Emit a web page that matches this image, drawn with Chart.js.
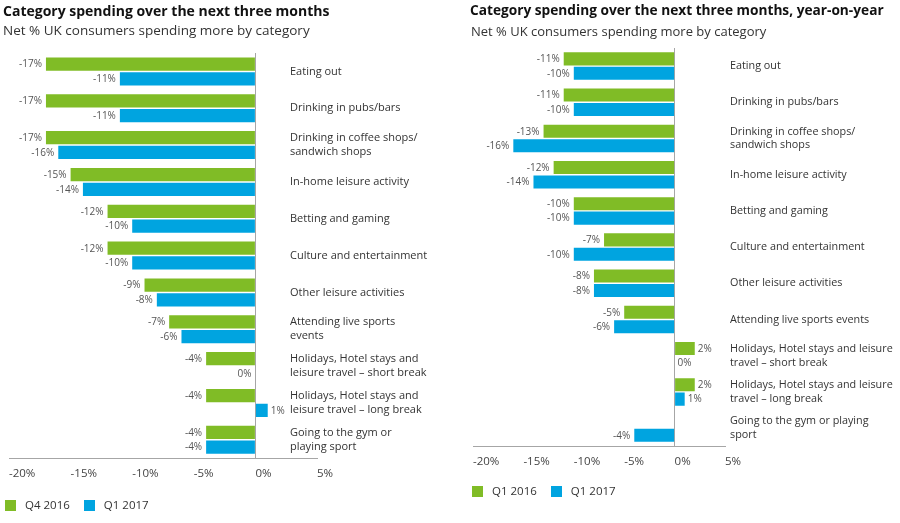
<!DOCTYPE html>
<html>
<head>
<meta charset="utf-8">
<script src="https://cdn.jsdelivr.net/npm/chart.js@4"></script>
<style>
  body { margin: 0; background: #fff; font-family: "Open Sans", sans-serif; }
  #wrap { position: relative; width: 900px; height: 523px; overflow: hidden; }
  .panel { position: absolute; top: 0; width: 450px; height: 523px; }
  .panel canvas { position: absolute; left: 0; top: 0; }
  .title { position: absolute; font-weight: 700; line-height: 18px; color: #111; white-space: nowrap; }
  .sub { position: absolute; line-height: 18px; color: #333; white-space: nowrap; }
  .legend { position: absolute; font-size: 11.5px; line-height: 14px; color: #333; white-space: nowrap; display: flex; align-items: center; }
  .legend i { display: inline-block; width: 11px; height: 11px; margin-right: 9px; }
  .legend span { margin-right: 14px; }
</style>
</head>
<body>
<div id="wrap">
  <div class="panel" style="left:0">
    <canvas id="left" width="450" height="523"></canvas>
    <div class="title" style="left:3px;top:2px;font-size:14px">Category spending over the next three months</div>
    <div class="sub" style="left:3px;top:21px;font-size:13.5px">Net % UK consumers spending more by category</div>
    <div class="legend" style="left:5px;top:498px">
      <i style="background:#80bc26"></i><span>Q4 2016</span>
      <i style="background:#00a4e0"></i><span>Q1 2017</span>
    </div>
  </div>
  <div class="panel" style="left:450px">
    <canvas id="right" width="450" height="523"></canvas>
    <div class="title" style="left:20px;top:1px;font-size:13.7px">Category spending over the next three months, year-on-year</div>
    <div class="sub" style="left:21px;top:22px;font-size:13px">Net % UK consumers spending more by category</div>
    <div class="legend" style="left:22px;top:484px">
      <i style="background:#80bc26"></i><span>Q1 2016</span>
      <i style="background:#00a4e0"></i><span>Q1 2017</span>
    </div>
  </div>
</div>
<script>
// category labels (line breaks differ between the two panels)
const leftCategories = [
  ['Eating out'],
  ['Drinking in pubs/bars'],
  ['Drinking in coffee shops/', 'sandwich shops'],
  ['In-home leisure activity'],
  ['Betting and gaming'],
  ['Culture and entertainment'],
  ['Other leisure activities'],
  ['Attending live sports', 'events'],
  ['Holidays, Hotel stays and', 'leisure travel – short break'],
  ['Holidays, Hotel stays and', 'leisure travel – long break'],
  ['Going to the gym or', 'playing sport']
];
const rightCategories = [
  ['Eating out'],
  ['Drinking in pubs/bars'],
  ['Drinking in coffee shops/', 'sandwich shops'],
  ['In-home leisure activity'],
  ['Betting and gaming'],
  ['Culture and entertainment'],
  ['Other leisure activities'],
  ['Attending live sports events'],
  ['Holidays, Hotel stays and leisure', 'travel – short break'],
  ['Holidays, Hotel stays and leisure', 'travel – long break'],
  ['Going to the gym or playing', 'sport']
];

// net % values, left panel (quarter-on-quarter)
const q4_2016 = [-17, -17, -17, -15, -12, -12, -9, -7, -4, -4, -4];
const q1_2017 = [-11, -11, -16, -14, -10, -10, -8, -6, 0, 1, -4];
// net % values, right panel (year-on-year)
const q1_2016_yoy = [-11, -11, -13, -12, -10, -7, -8, -5, 2, 2, null];
const q1_2017_yoy = [-10, -10, -16, -14, -10, -10, -8, -6, 0, 1, -4];

const xMin = -20;
const xMax = 5;
const xStep = 5;

const GREEN = '#80bc26';
const BLUE = '#00a4e0';
const AXIS = '#a6a6a6';

// category names drawn to the right of the bars, centred on each band
const sideLabels = {
  id: 'sideLabels',
  afterDatasetsDraw(chart, args, opts) {
    const { ctx } = chart;
    const y = chart.scales.y;
    ctx.save();
    ctx.font = opts.size + 'px "Open Sans"';
    ctx.fillStyle = '#333';
    ctx.textAlign = 'left';
    ctx.textBaseline = 'middle';
    chart.data.labels.forEach((lab, i) => {
      const lines = [].concat(lab);
      const cy = y.getPixelForValue(i);
      lines.forEach((t, k) => {
        ctx.fillText(t, opts.x, cy + (k - (lines.length - 1) / 2) * opts.lineHeight);
      });
    });
    ctx.restore();
  }
};

// value labels at the end of each bar
const valueLabels = {
  id: 'valueLabels',
  afterDatasetsDraw(chart, args, opts) {
    const { ctx } = chart;
    ctx.save();
    ctx.font = '10px "Open Sans"';
    ctx.fillStyle = '#555';
    ctx.textBaseline = 'middle';
    chart.data.datasets.forEach((ds, di) => {
      chart.getDatasetMeta(di).data.forEach((bar, i) => {
        const v = ds.data[i];
        if (v === null || v === undefined) return;
        const onLeft = v < 0 || (v === 0 && opts.zeroLeft);
        ctx.textAlign = onLeft ? 'right' : 'left';
        ctx.fillText(v + '%', bar.x + (onLeft ? -4 : 3), bar.y + 0.5);
      });
    });
    ctx.restore();
  }
};

function createBarChart(element, labels, series, names, pad, side, zeroLeft) {
  return new Chart(element, {
    type: 'bar',
    data: {
      labels: labels,
      datasets: [
        { label: names[0], data: series[0], backgroundColor: GREEN },
        { label: names[1], data: series[1], backgroundColor: BLUE }
      ]
    },
    options: {
      indexAxis: 'y',
      responsive: false,
      animation: false,
      categoryPercentage: 0.8,
      barPercentage: 0.9,
      layout: { padding: pad },
      scales: {
        x: {
          min: xMin,
          max: xMax,
          grid: {
            drawTicks: false,
            color: (c) => (c.tick && c.tick.value === 0 ? AXIS : 'transparent'),
            lineWidth: 1
          },
          border: { display: true, color: AXIS, width: 1 },
          ticks: {
            stepSize: xStep,
            align: 'start',
            padding: 9,
            color: '#444',
            font: { family: 'Open Sans', size: 11.5 },
            callback: (v) => v + '%'
          }
        },
        y: { display: false }
      },
      plugins: {
        legend: { display: false },
        tooltip: { enabled: false },
        sideLabels: side,
        valueLabels: { zeroLeft: zeroLeft }
      }
    },
    plugins: [sideLabels, valueLabels]
  });
}

createBarChart(
  document.getElementById('left'),
  leftCategories,
  [q4_2016, q1_2017],
  ['Q4 2016', 'Q1 2017'],
  { left: 5, right: 133, top: 53, bottom: 33 },
  { x: 290, lineHeight: 14, size: 11 },
  true
);

createBarChart(
  document.getElementById('right'),
  rightCategories,
  [q1_2016_yoy, q1_2017_yoy],
  ['Q1 2016', 'Q1 2017'],
  { left: 23, right: 175, top: 48, bottom: 45 },
  { x: 280, lineHeight: 13.5, size: 10.8 },
  false
);
</script>
</body>
</html>
